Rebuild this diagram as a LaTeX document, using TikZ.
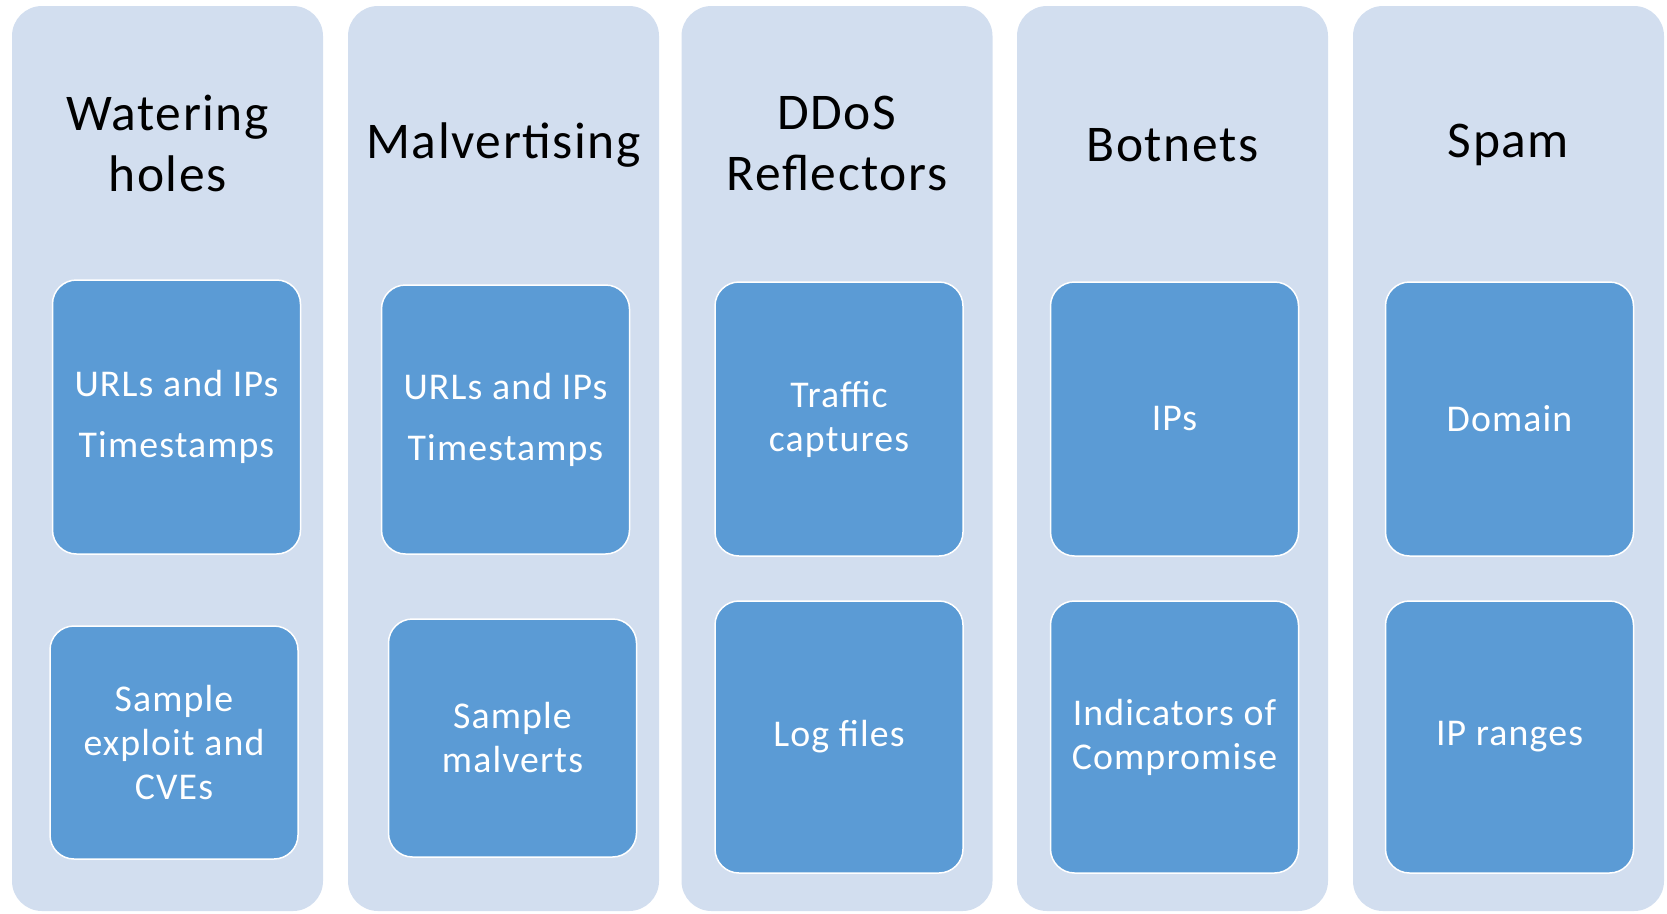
\documentclass[tikz,border=0pt]{standalone}
\usepackage{fontspec}
\setmainfont{Carlito}
\newfontfamily\boxfont[LetterSpace=3]{Carlito}
\usepackage{tikz}
\usetikzlibrary{positioning}
\usepackage{xcolor}
\definecolor{colfill}{HTML}{D2DEEF}
\definecolor{itemfill}{HTML}{5B9BD5}
\tikzstyle{column} = [fill=colfill, rectangle, rounded corners=30pt,
    minimum width=311pt, minimum height=905pt, inner sep=0pt]
\tikzstyle{coltitle} = [text=black, align=center,
    font=\boxfont\fontsize{51.5}{61}\selectfont]
\tikzstyle{item} = [fill=itemfill, draw=white, line width=1.5pt,
    rectangle, rounded corners=24pt, minimum width=248pt, inner sep=0pt,
    text=white, align=center, font=\boxfont\fontsize{37.8}{44}\selectfont]

\begin{document}
\begin{tikzpicture}[x=1pt, y=-1pt]
\useasboundingbox (0,0) rectangle (1667,913);
% columns
\node [column] (col1) at (167.5,458.5) {};
\node [column] (col2) at (503.5,458.5) {};
\node [column] (col3) at (837,458.5) {};
\node [column] (col4) at (1172.5,458.5) {};
\node [column] (col5) at (1508.5,458.5) {};
% titles
\node [coltitle] (title1) at (167.5,143) {Watering\\holes};
\node [coltitle] (title2) at (503.5,145) {Malvertising};
\node [coltitle] (title3) at (837,143) {DDoS\\Reflectors};
\node [coltitle] (title4) at (1172.5,145) {Botnets};
\node [coltitle] (title5) at (1508.5,145) {Spam};
% items
\node [item, minimum height=274pt] (urls1) at (176.5,417) {URLs and IPs\\[17pt]Timestamps};
\node [item, minimum height=233pt] (exploit) at (174,742.5) {Sample\\exploit and\\CVEs};
\node [item, minimum height=269pt] (urls2) at (505.5,419.5) {URLs and IPs\\[17pt]Timestamps};
\node [item, minimum height=238pt] (malverts) at (512.5,738) {Sample\\malverts};
\node [item, minimum height=274pt] (traffic) at (839,419) {Traffic\\captures};
\node [item, minimum height=272pt] (logs) at (839,737) {Log files};
\node [item, minimum height=274pt] (ips) at (1174.5,419) {IPs};
\node [item, minimum height=272pt] (ioc) at (1174.5,737) {Indicators of\\Compromise};
\node [item, minimum height=274pt] (domain) at (1509.5,419) {Domain};
\node [item, minimum height=272pt] (ranges) at (1509.5,737) {IP ranges};
\end{tikzpicture}
\end{document}
